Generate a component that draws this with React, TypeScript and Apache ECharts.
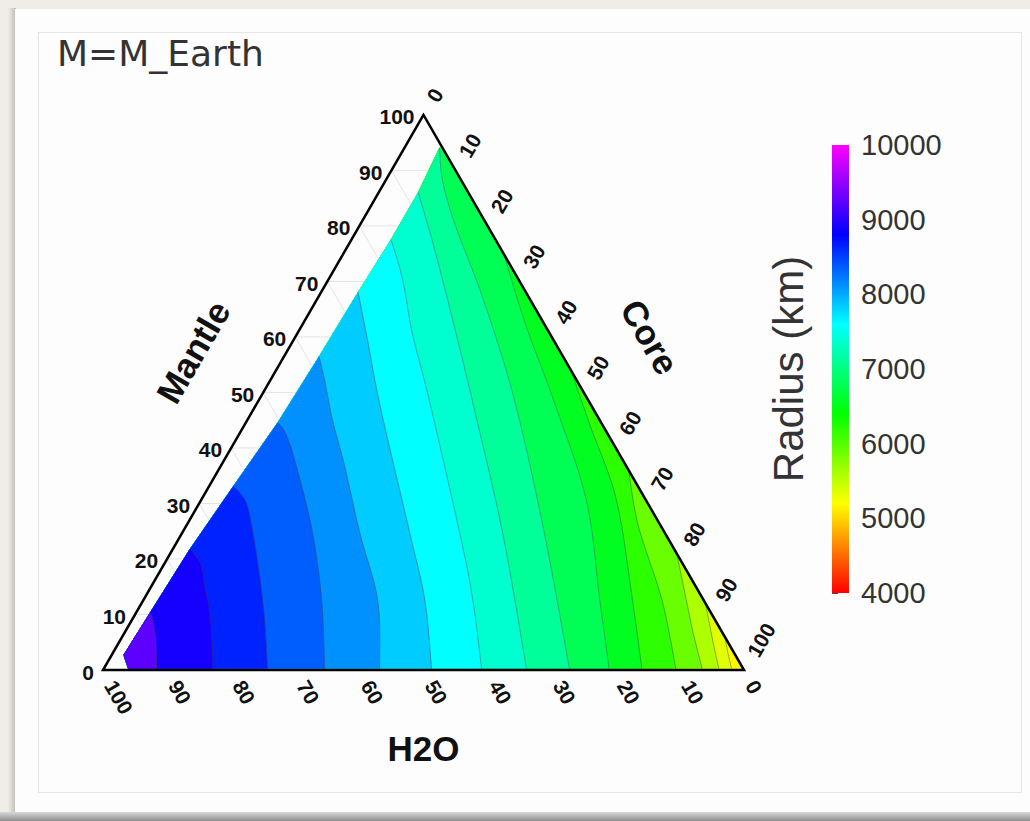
import { useEffect, useRef } from 'react';
import * as echarts from 'echarts';

// ---------- texts ----------
const TITLE = 'M=M_Earth';
const NAME_H2O = 'H2O';
const NAME_MANTLE = 'Mantle';
const NAME_CORE = 'Core';
const COLORBAR_NAME = 'Radius (km)';

// ---------- ternary axis ticks (percent) ----------
const TERNARY_TICKS = [0, 10, 20, 30, 40, 50, 60, 70, 80, 90, 100];
const GRID_TICKS = [10, 20, 30, 40, 50, 60, 70, 80, 90];

// ---------- colour scale (km) ----------
const RADIUS_MIN = 4000;
const RADIUS_MAX = 10000;
const RADIUS_STEP = 1000;
const RAINBOW = ['#ff0000', '#ffff00', '#00ff00', '#00ffff', '#0000ff', '#ff00ff'];

// ---------- contour levels (km), one per contour line ----------
const LEVELS = [9070, 8770, 8500, 8240, 7980, 7720, 7490, 7260, 6990, 6690, 6380, 6050, 5740, 5460, 5250];
const BAND_VALUES = [9240, 8900, 8640, 8360, 8120, 7840, 7600, 7380, 7120, 6800, 6550, 6200, 5900, 5580, 5340, 5160];

// ---------- contour lines: [mantle %, core %] (H2O = 100 - mantle - core) ----------
const CONTOUR_A = [[0.3, 8.2], [5.4, 5.5], [9.5, 2.9], [10.2, 2.2]];
const CONTOUR_B = [[0.3, 17.0], [5.4, 14.3], [11, 11.1], [15.3, 8.2], [19, 5.8], [21.8, 2.7]];
const CONTOUR_C = [[0.3, 25.5], [9, 20.7], [18, 15.3], [28.8, 8.3], [31.9, 5.4], [33, 3.8]];
const CONTOUR_D = [[0.3, 34.4], [12.6, 27.8], [25.2, 20], [37.8, 11], [42.9, 6.9], [44.5, 5.0]];
const CONTOUR_E = [[0.3, 43], [12.5, 36.6], [24.7, 27.7], [36.9, 19.2], [45, 13.3], [52.3, 8.4], [56.4, 5.5]];
const CONTOUR_F = [[0.3, 51.1], [12.6, 43.9], [24.7, 35.5], [46.9, 19.9], [59.5, 11.5], [68, 5.8]];
const CONTOUR_G = [[0.3, 58.9], [12.6, 51.4], [24.7, 43.3], [48.6, 26.6], [60.7, 17.9], [70.3, 11.6], [77.5, 6.2]];
const CONTOUR_H = [[0.3, 65.9], [24.7, 50], [48.6, 33.3], [63.1, 23], [75.7, 13.9], [86, 6.2]];
const CONTOUR_I = [[0.3, 72.6], [24.7, 56.5], [48.6, 39.9], [66.7, 26], [80, 15], [88, 9], [94, 5.5]];
const CONTOUR_J = [[0.3, 78.8], [12.6, 71.2], [30.6, 60.1], [48.6, 46], [62, 35], [75, 25]];
const CONTOUR_K = [[0.3, 83.9], [12.6, 76.3], [30.6, 64.8], [44, 54], [54, 46]];
const CONTOUR_L = [[0.3, 89.2], [12.6, 80.9], [26, 70.5], [36, 64]];
const CONTOUR_M = [[0.3, 93.3], [7, 88.5], [12.6, 84.7], [21, 79]];
const CONTOUR_N = [[0.3, 95.9], [6, 92], [12, 88]];
const CONTOUR_O = [[0.3, 97.9], [3, 96], [6, 94]];
const CONTOURS = [
  CONTOUR_A, CONTOUR_B, CONTOUR_C, CONTOUR_D, CONTOUR_E, CONTOUR_F, CONTOUR_G, CONTOUR_H,
  CONTOUR_I, CONTOUR_J, CONTOUR_K, CONTOUR_L, CONTOUR_M, CONTOUR_N, CONTOUR_O,
];

// left edge of the computed field, [mantle %, core %], from top to bottom
const FIELD_LEFT_EDGE = [
  [94, 5.5], [86, 6.2], [77.5, 6.2], [68, 5.8], [56.4, 5.5], [44.5, 5.0],
  [33, 3.8], [21.8, 2.7], [10.2, 2.2], [2.7, 1.9], [0.3, 3.8],
];
const FIELD_TOP = 94;
const FIELD_BOTTOM = 0.3;

// ---------- layout ----------
const H = Math.sqrt(3) / 2;
const TRI_LEFT = 103;
const TRI_BOTTOM = 670;
const TRI_SIDE = 641;
const LABEL_FONT = 'bold 21px "Liberation Sans", Arial, sans-serif';
const NAME_FONT = 'bold 35px "Liberation Sans", Arial, sans-serif';

const tern = (m: number, c: number) => [c + m / 2, m * H];

// Catmull-Rom drawing of a curve through the given pixel points
function curve(pts: number[][], seg = 10): number[][] {
  if (pts.length < 3) return pts;
  const out: number[][] = [];
  for (let i = 0; i < pts.length - 1; i++) {
    const p0 = pts[Math.max(0, i - 1)], p1 = pts[i], p2 = pts[i + 1], p3 = pts[Math.min(pts.length - 1, i + 2)];
    for (let s = 0; s < seg; s++) {
      const t = s / seg, t2 = t * t, t3 = t2 * t;
      out.push([0, 1].map((d) => 0.5 * (2 * p1[d] + (-p0[d] + p2[d]) * t
        + (2 * p0[d] - 5 * p1[d] + 4 * p2[d] - p3[d]) * t2 + (-p0[d] + 3 * p1[d] - 3 * p2[d] + p3[d]) * t3)));
    }
  }
  out.push(pts[pts.length - 1]);
  return out;
}

function closingEdge(k: number): number[][] {
  const line = CONTOURS[k];
  const end = line[line.length - 1];
  const pts: number[][] = [];
  if (end[0] + end[1] >= 99.5) {
    pts.push([FIELD_TOP, 100 - FIELD_TOP]);
    for (const p of FIELD_LEFT_EDGE) pts.push(p);
  } else {
    for (const p of FIELD_LEFT_EDGE) if (p[0] < end[0] - 0.01) pts.push(p);
  }
  return pts;
}

function wholeField(): number[][] {
  return [...FIELD_LEFT_EDGE, [FIELD_BOTTOM, 100 - FIELD_BOTTOM], [FIELD_TOP, 100 - FIELD_TOP]];
}

function txt(x: number, y: number, text: string, font: string, align: string, vAlign: string, rotation = 0, fill = '#111') {
  return {
    type: 'text', x, y, rotation,
    style: { text, font, fill, align, textAlign: align, verticalAlign: vAlign, textVerticalAlign: vAlign },
  };
}

export default function App() {
  const ref = useRef<HTMLDivElement>(null);
  useEffect(() => {
    if (!ref.current) return;
    const chart = echarts.init(ref.current, null, { renderer: 'svg' });
    // paint from the Core corner band (whole field) to the H2O corner band, each over the previous
    const bandOrder: number[] = [];
    for (let k = BAND_VALUES.length - 1; k >= 0; k--) bandOrder.push(k);

    const option: any = {
      animation: false,
      backgroundColor: '#f0ede6',
      title: {
        text: TITLE, left: 57, top: 35, padding: 0,
        textStyle: { fontFamily: '"DejaVu Sans", sans-serif', fontSize: 36, fontWeight: 'normal', color: '#333' },
      },
      graphic: {
        elements: [
          { type: 'rect', z: -10, shape: { x: 8, y: 8, width: 8, height: 806 },
            style: { fill: new echarts.graphic.LinearGradient(0, 0, 1, 0, [{ offset: 0, color: 'rgba(190,188,182,0)' }, { offset: 1, color: '#bdbbb6' }]) } },
          { type: 'rect', z: -9, shape: { x: 15, y: 9, width: 1015, height: 804 }, style: { fill: '#fdfdfd' } },
          { type: 'rect', z: -9, shape: { x: 0, y: 812, width: 1030, height: 9 },
            style: { fill: new echarts.graphic.LinearGradient(0, 0, 0, 1, [{ offset: 0, color: '#d9d9d9' }, { offset: 1, color: '#8c8c8c' }]) } },
          { type: 'rect', z: -8, shape: { x: 38.5, y: 32.5, width: 983, height: 760 }, style: { fill: 'none', stroke: '#e6e6e6', lineWidth: 1.2 } },
        ],
      },
      visualMap: {
        type: 'continuous', show: false, min: RADIUS_MIN, max: RADIUS_MAX, dimension: 1, seriesIndex: 1,
        inRange: { color: RAINBOW },
      },
      grid: [
        { left: TRI_LEFT, top: TRI_BOTTOM - TRI_SIDE * H, width: TRI_SIDE, height: TRI_SIDE * H },
        { left: 832, top: 145, width: 17, height: 448 },
      ],
      xAxis: [
        { type: 'value', gridIndex: 0, min: 0, max: 100, show: false },
        { type: 'value', gridIndex: 1, min: 0, max: 1, show: false },
      ],
      yAxis: [
        { type: 'value', gridIndex: 0, min: 0, max: 100 * H, show: false },
        {
          type: 'value', gridIndex: 1, position: 'right', min: RADIUS_MIN, max: RADIUS_MAX, interval: RADIUS_STEP,
          axisLine: { show: false }, splitLine: { show: false },
          axisTick: { show: true, length: 6, lineStyle: { color: '#444', width: 1 } },
          axisLabel: { fontSize: 29, color: '#333', margin: 12, fontFamily: '"Liberation Sans", Arial, sans-serif', formatter: (v: number) => String(v) },
        },
        {
          type: 'value', gridIndex: 1, position: 'left', min: RADIUS_MIN, max: RADIUS_MAX,
          axisLine: { show: false }, axisTick: { show: false }, axisLabel: { show: false }, splitLine: { show: false },
          name: COLORBAR_NAME, nameLocation: 'middle', nameRotate: 90, nameGap: 23,
          nameTextStyle: { fontSize: 42, color: '#333', fontFamily: '"Liberation Sans", Arial, sans-serif' },
        },
      ],
      series: [
        {
          type: 'custom', name: 'grid', xAxisIndex: 0, yAxisIndex: 0, silent: true, z: 1,
          data: GRID_TICKS.map((t) => [t, 0]),
          renderItem: (params: any, api: any) => {
            const t = api.value(0);
            const P = (m: number, c: number) => api.coord(tern(m, c));
            const st = { stroke: '#e4e4e4', lineWidth: 1 };
            return {
              type: 'group',
              children: [
                { type: 'line', shape: { x1: P(t, 0)[0], y1: P(t, 0)[1], x2: P(t, 100 - t)[0], y2: P(t, 100 - t)[1] }, style: st },
                { type: 'line', shape: { x1: P(0, t)[0], y1: P(0, t)[1], x2: P(100 - t, t)[0], y2: P(100 - t, t)[1] }, style: st },
                { type: 'line', shape: { x1: P(0, 100 - t)[0], y1: P(0, 100 - t)[1], x2: P(100 - t, 0)[0], y2: P(100 - t, 0)[1] }, style: st },
              ],
            };
          },
        },
        {
          type: 'custom', name: 'Radius', xAxisIndex: 0, yAxisIndex: 0, silent: true, z: 2,
          data: bandOrder.map((k) => [k, BAND_VALUES[k]]),
          renderItem: (params: any, api: any) => {
            const k = api.value(0);
            const px = ([m, c]: number[]) => api.coord(tern(m, c));
            let points: number[][];
            if (k >= CONTOURS.length) points = wholeField().map(px);
            else points = [...curve(CONTOURS[k].map(px)), ...closingEdge(k).map(px)];
            const color = api.visual('color');
            return { type: 'polygon', shape: { points }, style: { fill: color, stroke: color, lineWidth: 0.6 } };
          },
        },
        {
          type: 'custom', name: 'contours', xAxisIndex: 0, yAxisIndex: 0, silent: true, z: 3,
          data: LEVELS.map((lv, k) => [k, lv]),
          renderItem: (params: any, api: any) => {
            const k = api.value(0);
            const points = curve(CONTOURS[k].map(([m, c]) => api.coord(tern(m, c))));
            return { type: 'polyline', shape: { points }, style: { stroke: 'rgba(70,70,70,0.45)', lineWidth: 1, fill: 'none' } };
          },
        },
        {
          type: 'custom', name: 'frame', xAxisIndex: 0, yAxisIndex: 0, silent: true, z: 4,
          data: [[0, 0]],
          renderItem: (params: any, api: any) => {
            const P = (m: number, c: number) => api.coord(tern(m, c));
            const A = P(100, 0), B = P(0, 0), C = P(0, 100);
            const children: any[] = [
              { type: 'polygon', shape: { points: [A, B, C] }, style: { fill: 'none', stroke: '#000', lineWidth: 2.5, lineJoin: 'miter' } },
            ];
            for (const t of TERNARY_TICKS) {
              const pm = P(t, 0);
              children.push(txt(pm[0] - 9, pm[1] + 2, String(t), LABEL_FONT, 'right', 'middle'));
              const ph = P(0, 100 - t);
              children.push(txt(ph[0] + 14 * 0.5, ph[1] + 14 * H, String(t), LABEL_FONT, 'left', 'middle', -Math.PI / 3));
              const pc = P(100 - t, t);
              children.push(txt(pc[0] + 17 * 0.5, pc[1] - 17 * H, String(t), LABEL_FONT, 'left', 'middle', Math.PI / 3));
            }
            const lm = P(50, 0);
            children.push(txt(lm[0] - 81 * H, lm[1] - 81 * 0.5, NAME_MANTLE, NAME_FONT, 'center', 'middle', Math.PI / 3));
            const rm = P(50, 50);
            children.push(txt(rm[0] + 85 * H - 15 * 0.5, rm[1] - 85 * 0.5 - 15 * H, NAME_CORE, NAME_FONT, 'center', 'middle', -Math.PI / 3));
            const bm = P(0, 50);
            children.push(txt(bm[0], bm[1] + 78, NAME_H2O, NAME_FONT, 'center', 'middle'));
            return { type: 'group', children };
          },
        },
        {
          type: 'custom', name: 'colorbar', xAxisIndex: 1, yAxisIndex: 1, silent: true, z: 2,
          data: [[0, RADIUS_MIN]],
          renderItem: (params: any, api: any) => {
            const p0 = api.coord([0, RADIUS_MIN]);
            const p1 = api.coord([1, RADIUS_MAX]);
            return {
              type: 'rect',
              shape: { x: p0[0], y: p1[1], width: p1[0] - p0[0], height: p0[1] - p1[1] },
              style: {
                fill: new echarts.graphic.LinearGradient(0, 1, 0, 0,
                  RAINBOW.map((c, i) => ({ offset: i / (RAINBOW.length - 1), color: c }))),
              },
            };
          },
        },
      ],
    };
    chart.setOption(option);
    return () => chart.dispose();
  }, []);
  return <div ref={ref} style={{ position: 'absolute', left: 0, top: 0, width: 1030, height: 821 }} />;
}
